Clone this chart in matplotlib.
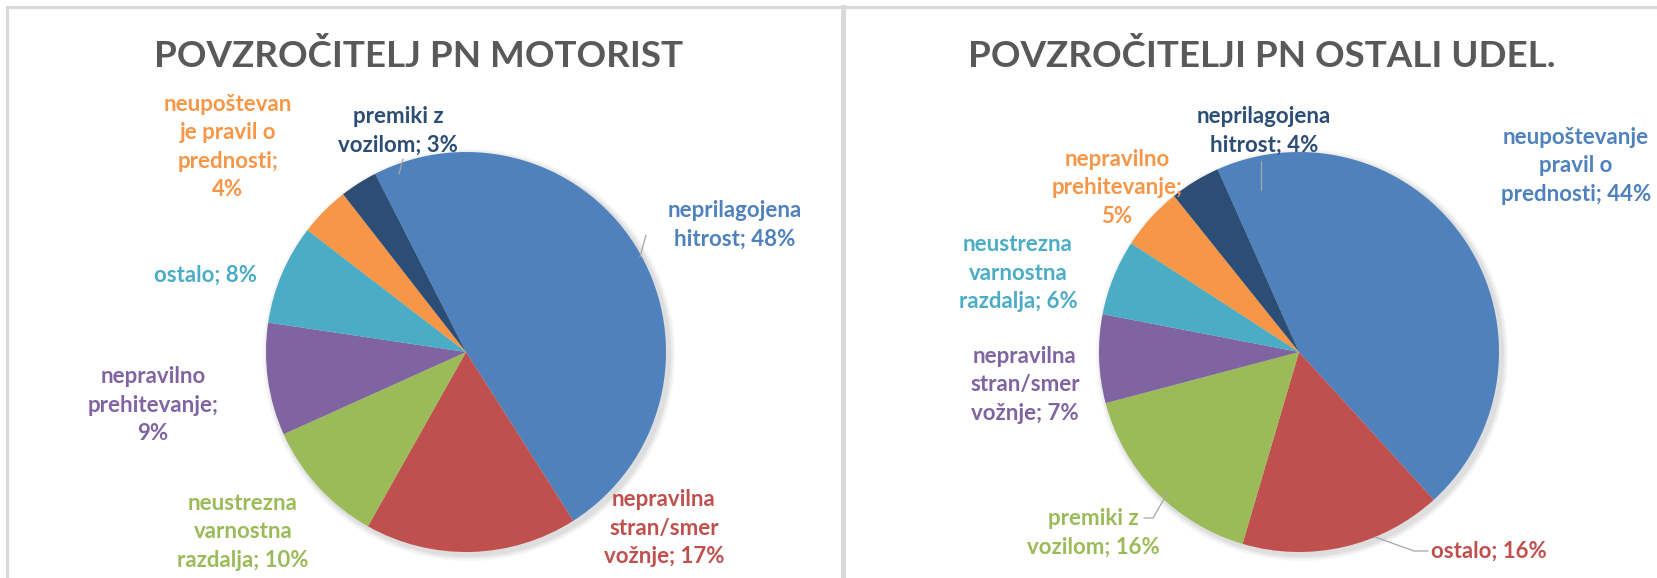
import matplotlib
matplotlib.use("Agg")
import matplotlib.pyplot as plt
from matplotlib.patches import Circle

# ---------------- data ----------------
left_title = "POVZROČITELJ PN MOTORIST"
left_cats = ["neprilagojena\nhitrost", "nepravilna\nstran/smer\nvožnje",
             "neustrezna\nvarnostna\nrazdalja; ", "nepravilno\nprehitevanje;\n",
             "ostalo", "neupoštevan\nje pravil o\nprednosti;\n", "premiki z\nvozilom"]
left_vals = [48, 17, 10, 9, 8, 4, 3]

right_title = "POVZROČITELJI PN OSTALI UDEL."
right_cats = ["neupoštevanje\npravil o\nprednosti", "ostalo", "premiki z\nvozilom",
              "nepravilna\nstran/smer\nvožnje", "neustrezna\nvarnostna\nrazdalja",
              "nepravilno\nprehitevanje;\n", "neprilagojena\nhitrost"]
right_vals = [44, 16, 16, 7, 6, 5, 4]

# ---------------- style / layout ----------------
COLORS = ["#4F81BD", "#C0504D", "#9BBB59", "#8064A2", "#4BACC6", "#F79646", "#2C4D75"]
W, H = 1658, 578
FONT = "Lato"

def fy(y):  # pixel-from-top -> data y
    return H - y

left_layout = dict(center=(466, 352), radius=200, start=117,
                   title_xy=(419, 56),
                   label_xy=[(735, 225), (664, 528), (243, 532), (153, 405),
                             (206, 275), (228, 147), (398, 131)],
                   sep=["; ", "; ", "", "", "; ", "", "; "],
                   leaders=[[(646, 235), (640, 257)], [(403, 159), (399, 174)]])
right_layout = dict(center=(1299, 352), radius=200, start=114,
                    title_xy=(1262, 56),
                    label_xy=[(1576, 166), (1489, 551), (1093, 533), (1025, 385),
                              (1018, 273), (1117, 188), (1264, 131)],
                    sep=["; ", "; ", "; ", "; ", "; ", "", "; "],
                    leaders=[[(1261, 161), (1261, 190)],
                             [(1144, 518), (1153, 518), (1168, 492)],
                             [(1428, 551), (1414, 551), (1375, 537)]])

fig = plt.figure(figsize=(W / 100, H / 100), dpi=100)
ax = fig.add_axes([0, 0, 1, 1])


def draw(title, cats, vals, lay):
    cx, cy = lay["center"]
    r = lay["radius"]
    # soft shadow
    for k, a in [(6, 0.035), (4, 0.045), (2, 0.055)]:
        ax.add_patch(Circle((cx + 3, fy(cy) - 3), r + k, color="#000000", alpha=a, lw=0, zorder=1))
    wedges, _ = ax.pie(vals, colors=COLORS, startangle=lay["start"], counterclock=False,
                       center=(cx, fy(cy)), radius=r,
                       wedgeprops=dict(linewidth=0, zorder=2))
    for w in wedges:
        w.set_zorder(2)
    for i, (c, v) in enumerate(zip(cats, vals)):
        txt = f"{c}{lay['sep'][i]}{v}%"
        x, y = lay["label_xy"][i]
        ax.text(x, fy(y), txt, ha="center", va="center", color=COLORS[i],
                fontsize=16, fontweight="bold", family=FONT, linespacing=1.42, zorder=5)
    for seg in lay["leaders"]:
        xs = [p[0] for p in seg]
        ys = [fy(p[1]) for p in seg]
        ax.plot(xs, ys, color="#a6a6a6", lw=0.9, zorder=4)
    tx, ty = lay["title_xy"]
    ax.text(tx, fy(ty), title, ha="center", va="center", color="#595959",
            fontsize=26.5, fontweight="bold", family=FONT, zorder=5)


draw(left_title, left_cats, left_vals, left_layout)
draw(right_title, right_cats, right_vals, right_layout)

# chart frames
border = "#d9d9d9"
ax.plot([7, W], [fy(7), fy(7)], color=border, lw=2.2, zorder=6)
ax.plot([7, 7], [fy(7), 0], color=border, lw=2.2, zorder=6)
ax.plot([843.5, 843.5], [fy(7), 0], color=border, lw=3.5, zorder=6)

ax.set_xlim(0, W)
ax.set_ylim(0, H)
ax.set_aspect("auto")
ax.axis("off")

fig.savefig("out.png", dpi=100, facecolor="white")
